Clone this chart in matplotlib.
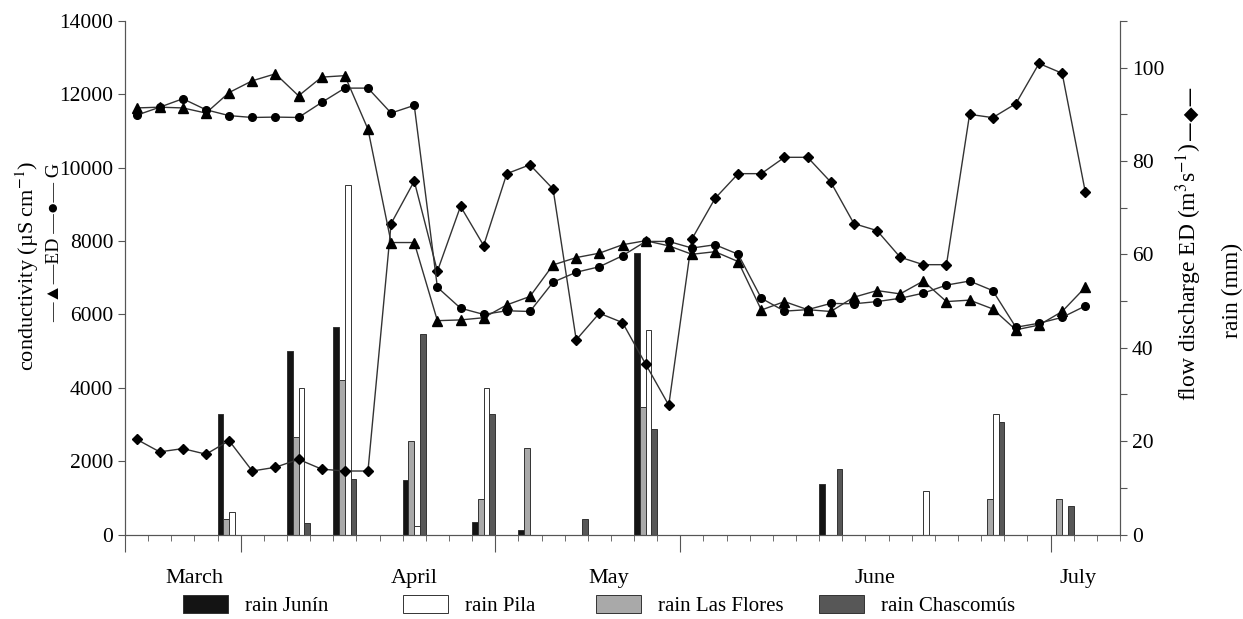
import matplotlib
matplotlib.use('Agg')
import matplotlib.pyplot as plt
from matplotlib.ticker import FixedLocator, FuncFormatter
import numpy as np

plt.rcParams['font.family'] = ['Liberation Serif', 'DejaVu Sans']
plt.rcParams['mathtext.fontset'] = 'stix'

# conductivity (uS/cm), one value per sampling date
cond_ed = [11630, 11650, 11630, 11490, 12050, 12370, 12560, 11960, 12470, 12510,
           11050, 7960, 7960, 5830, 5850, 5910, 6260, 6490, 7350, 7550,
           7670, 7900, 8010, 7870, 7640, 7710, 7440, 6120, 6350, 6130,
           6080, 6470, 6650, 6560, 6910, 6350, 6390, 6150, 5580, 5710,
           6080, 6740]
cond_g = [11430, 11650, 11880, 11580, 11420, 11370, 11380, 11370, 11780, 12170,
          12170, 11490, 11700, 6740, 6170, 6000, 6100, 6080, 6880, 7150,
          7300, 7600, 7990, 7990, 7810, 7900, 7640, 6440, 6090, 6130,
          6300, 6290, 6350, 6440, 6580, 6800, 6910, 6650, 5650, 5760,
          5920, 6230]
# flow discharge ED (m3/s)
flow_ed = [20.4, 17.7, 18.4, 17.2, 20.1, 13.6, 14.4, 16.1, 14.0, 13.6,
           13.6, 66.6, 75.7, 56.4, 70.3, 61.9, 77.3, 79.2, 74.0, 41.7,
           47.4, 45.4, 36.5, 27.7, 63.3, 72.0, 77.3, 77.3, 80.8, 80.8,
           75.5, 66.6, 65.1, 59.4, 57.8, 57.8, 90.0, 89.3, 92.3, 100.9,
           98.8, 73.4]

# rain (mm) per category (43 categories)
rain_junin = [0, 0, 0, 0, 25.8, 0, 0, 39.4, 0, 44.5, 0, 0, 11.7, 0, 0, 2.6, 0, 0.9, 0, 0,
              0, 0, 60.2, 0, 0, 0, 0, 0, 0, 0, 10.9, 0, 0, 0, 0, 0, 0, 0, 0, 0,
              0, 0, 0]
rain_lasflores = [0, 0, 0, 0, 3.3, 0, 0, 20.9, 0, 33.1, 0, 0, 20.1, 0, 0, 7.7, 0, 18.6, 0, 0,
                  0, 0, 27.4, 0, 0, 0, 0, 0, 0, 0, 0, 0, 0, 0, 0, 0, 0, 7.7, 0, 0,
                  7.7, 0, 0]
rain_pila = [0, 0, 0, 0, 4.9, 0, 0, 31.3, 0, 74.8, 0, 0, 1.8, 0, 0, 31.3, 0, 0, 0, 0,
             0, 0, 43.8, 0, 0, 0, 0, 0, 0, 0, 0, 0, 0, 0, 9.3, 0, 0, 25.8, 0, 0,
             0, 0, 0]
rain_chascomus = [0, 0, 0, 0, 0, 0, 0, 2.5, 0, 11.8, 0, 0, 43.0, 0, 0, 25.8, 0, 0, 0, 3.3,
                  0, 0, 22.6, 0, 0, 0, 0, 0, 0, 0, 14.1, 0, 0, 0, 0, 0, 0, 24.2, 0, 0,
                  6.1, 0, 0]

months = ['March', 'April', 'May', 'June', 'July']

n_cat = len(rain_junin)
cats = np.arange(n_cat)
pts = np.arange(len(cond_ed))

W, H = 1243, 619
fig = plt.figure(figsize=(W / 100, H / 100), dpi=100)
ax = fig.add_axes([125 / W, 1 - 534.5 / H, (1120 - 125) / W, (534.5 - 21) / H])
ax2 = ax.twinx()

# rain bars on right axis, four per category
bw = 0.25
series = [(rain_junin, '#141414', 'rain Junín'),
          (rain_lasflores, '#a9a9a9', 'rain Las Flores'),
          (rain_pila, '#ffffff', 'rain Pila'),
          (rain_chascomus, '#575757', 'rain Chascomús')]
bars = {}
for k, (vals, col, lab) in enumerate(series):
    bars[lab] = ax2.bar(cats - 0.375 + bw * k, vals, width=bw, color=col,
                        edgecolor='#333333', linewidth=0.7, label=lab)

line_kw = dict(color='#333333', linewidth=1.0, markerfacecolor='black',
               markeredgecolor='black')
ax2.plot(pts, flow_ed, marker='D', markersize=5.5, **line_kw)
ax.plot(pts, cond_ed, marker='^', markersize=6.5, **line_kw)
ax.plot(pts, cond_g, marker='o', markersize=5.5, **line_kw)

ax.set_zorder(ax2.get_zorder() + 1)
ax.patch.set_visible(False)

ax.set_xlim(-0.5, n_cat - 0.5)
ax.set_ylim(0, 14000)
ax2.set_ylim(0, 110)

ax.set_yticks(np.arange(0, 14001, 2000))
ax.tick_params(axis='y', direction='out', length=5, labelsize=15.5, color='#555555')
ax2.yaxis.set_major_locator(FixedLocator(np.arange(0, 111, 10)))
ax2.yaxis.set_major_formatter(FuncFormatter(lambda v, p: '%d' % v if round(v) % 20 == 0 else ''))
ax2.tick_params(axis='y', direction='out', length=5, labelsize=15.5, color='#555555')

ax.xaxis.set_major_locator(FixedLocator([-0.5, 4.5, 15.5, 23.5, 39.5]))
ax.xaxis.set_minor_locator(FixedLocator(np.arange(-0.5, n_cat, 1.0)))
ax.tick_params(axis='x', which='major', direction='out', length=12, labelbottom=False,
               color='#555555')
ax.tick_params(axis='x', which='minor', direction='out', length=4, color='#555555')
ax2.tick_params(axis='x', which='both', bottom=False, labelbottom=False)

for a in (ax, ax2):
    a.spines['top'].set_visible(False)
    for s in ('left', 'right', 'bottom'):
        a.spines[s].set_color('#555555')

# month labels below the axis
trans = ax.get_xaxis_transform()
for m, xp in zip(months, [2.5, 12.0, 20.4, 31.9, 40.7]):
    ax.text(xp, -0.085, m, transform=trans, ha='center', va='center', fontsize=16)

# axis titles
fig.text(27 / W, 1 - 266 / H, 'conductivity (µS cm$^{-1}$)', rotation=90,
         ha='center', va='center', fontsize=16)
fig.text(55 / W, 1 - 243 / H, '—▲—ED —●— G', rotation=90,
         ha='center', va='center', fontsize=14,
         family=['Liberation Serif', 'DejaVu Sans'])
fig.text(1189 / W, 1 - 272 / H, 'flow discharge ED (m$^3$s$^{-1}$)', rotation=90,
         ha='center', va='center', fontsize=17)
fig.text(1190 / W, 1 - 113 / H, '—◆—', rotation=90,
         ha='center', va='center', fontsize=14,
         family=['DejaVu Sans'])
fig.text(1232 / W, 1 - 290 / H, 'rain (mm)', rotation=90,
         ha='center', va='center', fontsize=17)

# legend entries placed individually along the bottom
for lab, xl in [('rain Junín', 168), ('rain Pila', 388), ('rain Las Flores', 581),
                ('rain Chascomús', 804)]:
    fig.legend([bars[lab]], [lab], loc='lower left', bbox_to_anchor=(xl / W, -0.019),
               frameon=False, fontsize=15, handlelength=2.2, handleheight=1.0,
               handletextpad=0.8, borderpad=0.2)

fig.savefig('out.png', dpi=100)
